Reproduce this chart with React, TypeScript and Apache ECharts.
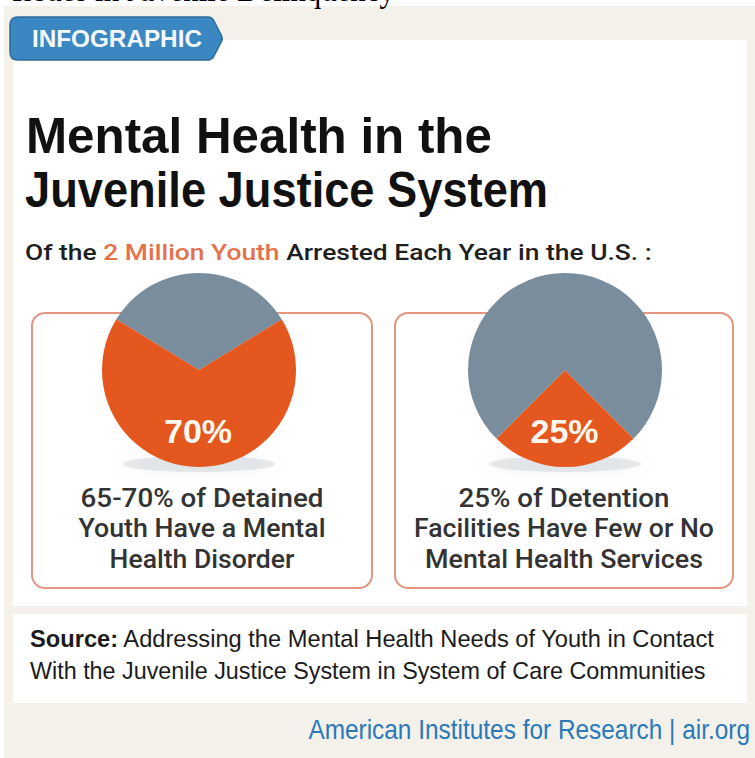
import React, { useEffect, useRef } from "react";
import * as echarts from "echarts";

// ---------- data ----------
const headerText = "Issues in Juvenile Delinquency";
const tabLabel = "INFOGRAPHIC";
const titleLines = ["Mental Health in the", "Juvenile Justice System"];
const subtitleParts = ["Of the ", "2 Million Youth", " Arrested Each Year in the U.S. :"];

const leftSliceNames = ["Without a mental health disorder", "With a mental health disorder"];
const leftSliceValues = [32.5, 67.5];
const rightSliceNames = ["Few or no mental health services", "Other detention facilities"];
const rightSliceValues = [25, 75];
const pieLabels = ["70%", "25%"];

const leftCaption = ["65-70% of Detained", "Youth Have a Mental", "Health Disorder"];
const rightCaption = ["25% of Detention", "Facilities Have Few or No", "Mental Health Services"];

const sourceLabel = "Source:";
const sourceLines = [
  " Addressing the Mental Health Needs of Youth in Contact",
  "With the Juvenile Justice System in System of Care Communities",
];
const creditText = "American Institutes for Research | air.org";

// ---------- styling ----------
const ORANGE = "#e4571f";
const GRAY = "#7a8d9c";
const SUB_ORANGE = "#e4714b";
const BEIGE = "#f4f0ea";
const BOX_STROKE = "#e3957f";
const BLUE = "#3b87c1";

const TAB_PATH =
  "M18 17 L208 17 Q212 17 214 21 L221.5 35.5 Q223 38.5 221.5 41.5 L214 56 Q212 60 208 60 L18 60 Q10 60 10 52 L10 25 Q10 17 18 17 Z";
echarts.graphic.registerShape("infoTab", echarts.graphic.extendPath(TAB_PATH, {}));

const SANS = '"Liberation Sans", Arial, sans-serif';
const ROBOTO = 'Roboto, "Liberation Sans", sans-serif';
const SERIF = '"Liberation Serif", "Times New Roman", serif';

export default function App() {
  const ref = useRef<HTMLDivElement>(null);

  useEffect(() => {
    if (!ref.current) return;
    const chart = echarts.init(ref.current, null, { renderer: "svg" });
    const ctx = document.createElement("canvas").getContext("2d")!;
    const measure = (t: string, size: number, weight: string, family: string) => {
      ctx.font = `${weight} ${size}px ${family}`;
      return ctx.measureText(t).width;
    };
    const MID = 0.345;

    type T = {
      text: string;
      x: number;
      baseline: number;
      size: number;
      weight: string;
      family: string;
      width?: number;
      fill: string;
      align?: string;
      z?: number;
      rich?: any;
      measured?: number;
    };
    const txt = (o: T) => {
      const w = o.measured ?? measure(o.text, o.size, o.weight, o.family);
      const sx = o.width ? o.width / w : 1;
      const style: any = {
        text: o.text,
        fontSize: o.size,
        fontWeight: o.weight,
        fontFamily: o.family,
        fill: o.fill,
        textAlign: o.align ?? "left",
        align: o.align ?? "left",
        textVerticalAlign: "middle",
        verticalAlign: "middle",
      };
      if (o.rich) style.rich = o.rich;
      return {
        type: "text",
        x: o.x,
        y: o.baseline - MID * o.size,
        scaleX: sx,
        z: o.z ?? 10,
        silent: true,
        style,
      };
    };

    const captionBaselines = [507, 537.5, 568];
    const leftTargets = [243, 247, 185];
    const rightTargets = [211, 300, 278];
    const capSize = 26;

    const subSize = 22;
    const subRich = {
      k: { fill: "#1f1f1f", fontSize: subSize, fontFamily: ROBOTO, fontWeight: "500" },
      o: { fill: SUB_ORANGE, fontSize: subSize, fontFamily: ROBOTO, fontWeight: "500" },
    };
    const subText = `{k|${subtitleParts[0]}}{o|${subtitleParts[1]}}{k|${subtitleParts[2]}}`;
    const subMeasured = measure(subtitleParts.join(""), subSize, "500", ROBOTO);

    const srcSize = 24;
    const srcRich = {
      b: { fill: "#1b1b1b", fontSize: srcSize, fontFamily: SANS, fontWeight: "bold" },
      r: { fill: "#1b1b1b", fontSize: srcSize, fontFamily: SANS, fontWeight: "normal" },
    };
    const src1Measured =
      measure(sourceLabel, srcSize, "bold", SANS) + measure(sourceLines[0], srcSize, "normal", SANS);

    const graphic: any[] = [
      // backgrounds
      { type: "rect", z: 0, silent: true, shape: { x: 4, y: 6, width: 751, height: 752 }, style: { fill: BEIGE } },
      { type: "rect", z: 0.2, silent: true, shape: { x: 13, y: 40, width: 734, height: 566 }, style: { fill: "#ffffff" } },
      { type: "rect", z: 0.2, silent: true, shape: { x: 13, y: 614, width: 734, height: 89 }, style: { fill: "#ffffff" } },
      // boxes
      {
        type: "rect",
        z: 0.5,
        silent: true,
        shape: { x: 32, y: 313, width: 340, height: 275, r: 13 },
        style: { fill: "#ffffff", stroke: BOX_STROKE, lineWidth: 2 },
      },
      {
        type: "rect",
        z: 0.5,
        silent: true,
        shape: { x: 395, y: 313, width: 338, height: 275, r: 13 },
        style: { fill: "#ffffff", stroke: BOX_STROKE, lineWidth: 2 },
      },
      // pie shadows
      {
        type: "ellipse",
        z: 1,
        silent: true,
        shape: { cx: 199, cy: 464, rx: 76, ry: 8 },
        style: { fill: "rgba(175,183,192,0.28)", shadowBlur: 14, shadowColor: "rgba(160,170,180,0.55)" },
      },
      {
        type: "ellipse",
        z: 1,
        silent: true,
        shape: { cx: 565, cy: 464, rx: 76, ry: 8 },
        style: { fill: "rgba(175,183,192,0.28)", shadowBlur: 14, shadowColor: "rgba(160,170,180,0.55)" },
      },
      // header (clipped serif, as in the reference)
      txt({ text: headerText, x: 12, baseline: 1, size: 36, weight: "normal", family: SERIF, width: 383, fill: "#000000" }),
      // tab
      {
        type: "infoTab",
        z: 5,
        silent: true,
        x: 0,
        y: 0,
        style: { fill: BLUE, stroke: "#2f6c9c", lineWidth: 1.5 },
      },
      txt({ text: tabLabel, x: 32, baseline: 47, size: 23, weight: "bold", family: SANS, width: 170, fill: "#f4f8fc", z: 6 }),
      // title
      txt({ text: titleLines[0], x: 26, baseline: 153, size: 50, weight: "bold", family: SANS, width: 466, fill: "#111111" }),
      txt({ text: titleLines[1], x: 25, baseline: 207, size: 50, weight: "bold", family: SANS, width: 523, fill: "#111111" }),
      // subtitle
      txt({
        text: subText,
        x: 25,
        baseline: 260,
        size: subSize,
        weight: "500",
        family: ROBOTO,
        width: 627,
        fill: "#1f1f1f",
        rich: subRich,
        measured: subMeasured,
      }),
      // pie labels
      txt({ text: pieLabels[0], x: 198, baseline: 443, size: 34, weight: "bold", family: SANS, fill: "#fff8ef", align: "center", z: 12 }),
      txt({ text: pieLabels[1], x: 564.5, baseline: 443, size: 34, weight: "bold", family: SANS, fill: "#fff8ef", align: "center", z: 12 }),
      // captions
      ...leftCaption.map((t, i) =>
        txt({ text: t, x: 202, baseline: captionBaselines[i], size: capSize, weight: "500", family: ROBOTO, width: leftTargets[i], fill: "#333333", align: "center" })
      ),
      ...rightCaption.map((t, i) =>
        txt({ text: t, x: 564, baseline: captionBaselines[i], size: capSize, weight: "500", family: ROBOTO, width: rightTargets[i], fill: "#333333", align: "center" })
      ),
      // source
      txt({
        text: `{b|${sourceLabel}}{r|${sourceLines[0]}}`,
        x: 30,
        baseline: 647,
        size: srcSize,
        weight: "normal",
        family: SANS,
        width: 686,
        fill: "#1b1b1b",
        rich: srcRich,
        measured: src1Measured,
      }),
      txt({ text: sourceLines[1], x: 30, baseline: 679, size: srcSize, weight: "normal", family: SANS, width: 676, fill: "#1b1b1b" }),
      // credit
      txt({ text: creditText, x: 750, baseline: 739, size: 28, weight: "normal", family: SANS, width: 442, fill: "#2a79b8", align: "right" }),
    ];

    const pie = (center: number[], values: number[], names: string[], colors: string[], startAngle: number) => ({
      type: "pie",
      center,
      radius: 97,
      startAngle,
      clockwise: true,
      silent: true,
      z: 2,
      label: { show: false },
      labelLine: { show: false },
      emphasis: { disabled: true },
      itemStyle: { borderWidth: 0 },
      data: values.map((v, i) => ({ value: v, name: names[i], itemStyle: { color: colors[i] } })),
    });

    chart.setOption({
      animation: false,
      backgroundColor: "#ffffff",
      tooltip: { show: false },
      graphic,
      series: [
        pie([199, 370], leftSliceValues, leftSliceNames, [GRAY, ORANGE], 90 + (leftSliceValues[0] / 100) * 180),
        pie([565, 370], rightSliceValues, rightSliceNames, [ORANGE, GRAY], 270 + (rightSliceValues[0] / 100) * 180),
      ],
    });

    return () => chart.dispose();
  }, []);

  return (
    <div
      ref={ref}
      style={{ position: "absolute", left: 0, top: 0, width: 755, height: 758 }}
    />
  );
}
